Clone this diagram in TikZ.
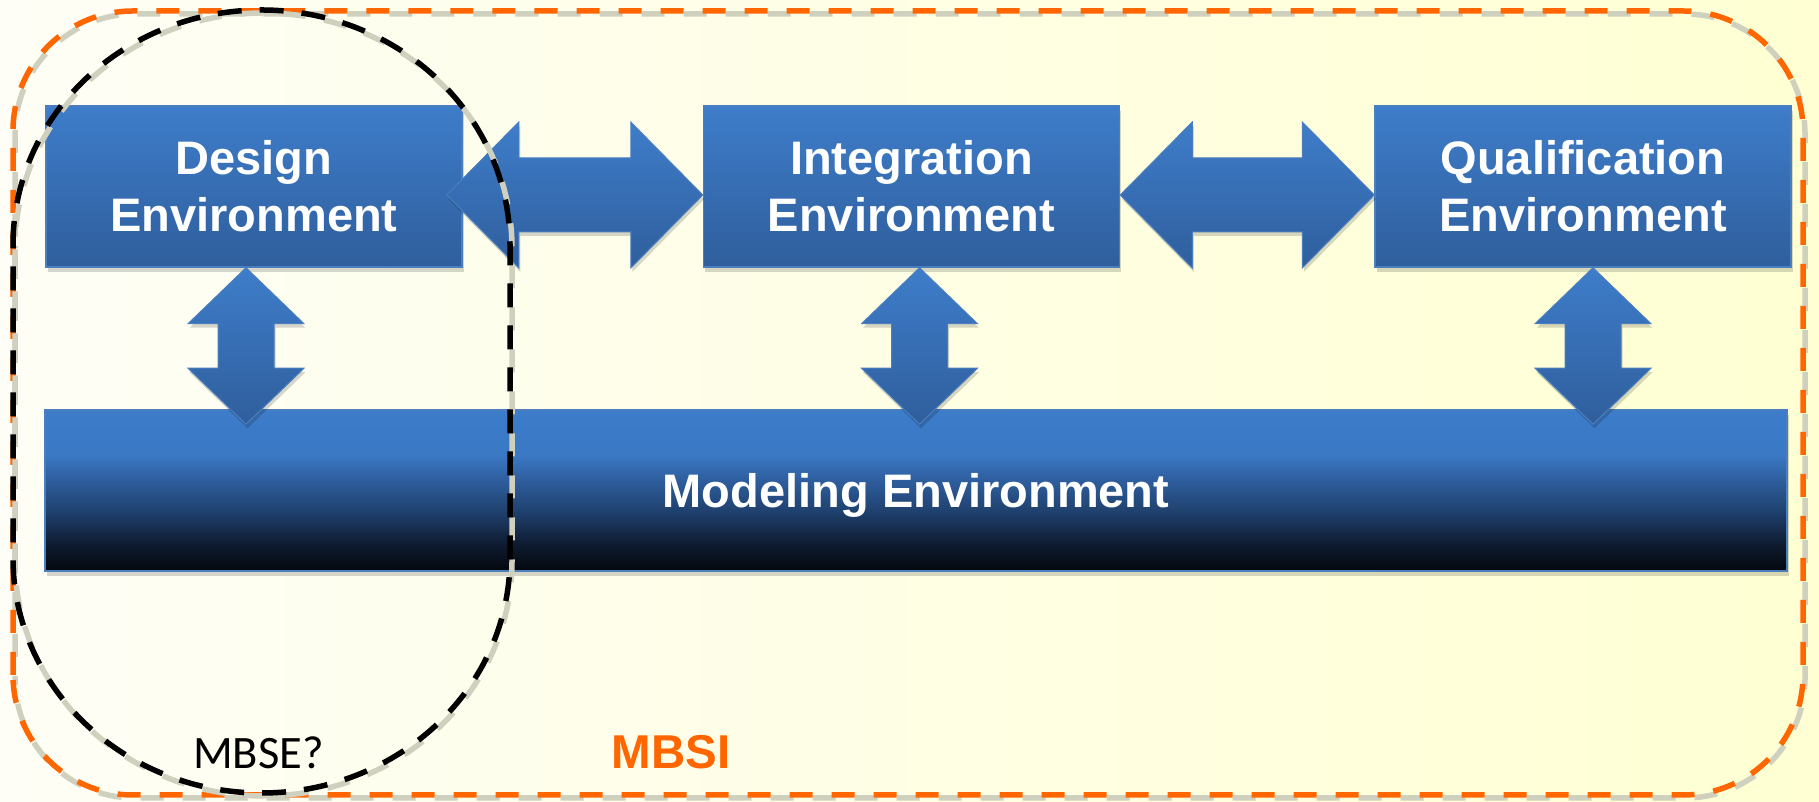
\documentclass[tikz,border=0pt]{standalone}
\usepackage{fontspec}
\setmainfont{Liberation Sans}
\newfontfamily\mbsefont{Carlito}
\usetikzlibrary{calc,positioning,shadows}

\definecolor{bgleft}{HTML}{FEFEF6}
\definecolor{bgright}{HTML}{FFFFD3}
\definecolor{boxtop}{HTML}{3E7DCA}
\definecolor{boxbot}{HTML}{2F5E9C}
\definecolor{boxedge}{HTML}{4A7EBF}
\definecolor{mbsiorange}{HTML}{FF6600}
\definecolor{dashgray}{HTML}{D0D0BF}
\definecolor{mod0}{HTML}{04080E}
\definecolor{mod1}{HTML}{0D1A2E}
\definecolor{mod2}{HTML}{1E3F6B}
\definecolor{mod3}{HTML}{2F5F9F}
\definecolor{mod4}{HTML}{3A78C4}
\definecolor{mod5}{HTML}{3C7CC8}
\pgfdeclareverticalshading{modelshade}{100bp}{color(0bp)=(mod0); color(25bp)=(mod0); color(33bp)=(mod1); color(43bp)=(mod2); color(53.5bp)=(mod3); color(61bp)=(mod4); color(75bp)=(mod5); color(100bp)=(mod5)}

\tikzset{
  boxshadow/.style={drop shadow={shadow xshift=1.5pt,shadow yshift=-5pt,fill=black,opacity=0.16}},
  envbox/.style={draw=boxedge,line width=1.5pt,top color=boxtop,bottom color=boxbot,
    text=white,font=\fontsize{47}{57}\selectfont\bfseries,align=center,
    minimum width=416pt,minimum height=161pt,inner sep=0pt,boxshadow},
  arrowbody/.style={top color=boxtop,bottom color=boxbot,draw=boxedge,line width=1pt,
    drop shadow={shadow xshift=1.5pt,shadow yshift=-4pt,fill=black,opacity=0.16}},
  dashshadow/.style={draw=dashgray,line width=5.5pt,dash pattern=on 23pt off 19pt,dash phase=21pt,shift={(2pt,-3pt)}},
  mbsiline/.style={draw=mbsiorange,line width=5.5pt,dash pattern=on 23pt off 19pt},
  mbseline/.style={draw=black,line width=5.5pt,dash pattern=on 24pt off 18pt}
}

% double headed block arrow between two tips: head length, half head width, half shaft width
\newcommand{\twoway}[5]{%
  \path[arrowbody] (#1)
    -- ($(#1)!#3!(#2)!#4!90:(#2)$)
    -- ($(#1)!#3!(#2)!#5!90:(#2)$)
    -- ($(#2)!#3!(#1)!#5!-90:(#1)$)
    -- ($(#2)!#3!(#1)!#4!-90:(#1)$)
    -- (#2)
    -- ($(#2)!#3!(#1)!#4!90:(#1)$)
    -- ($(#2)!#3!(#1)!#5!90:(#1)$)
    -- ($(#1)!#3!(#2)!#5!-90:(#2)$)
    -- ($(#1)!#3!(#2)!#4!-90:(#2)$)
    -- cycle;}

\begin{document}
\begin{tikzpicture}[x=1pt,y=1pt]

\useasboundingbox (0,0) rectangle (1819,802);
\shade[left color=bgleft,right color=bgright] (0,0) rectangle (1819,802);

\node[envbox] (design) at (254,615.5) {Design\\Environment};
\node[envbox,right=240pt of design] (integ) {Integration\\Environment};
\node[envbox,right=254pt of integ] (qual) {Qualification\\Environment};
\node[envbox,shade,shading=modelshade,minimum width=1742pt,text depth=0pt] (model) at (916,311.5) {Modeling Environment};

\coordinate (d1) at ($(design.east)+(-16,-8.5)$);
\coordinate (i1) at ($(integ.west)+(0,-8.5)$);
\coordinate (i2) at ($(integ.east)+(0,-8.5)$);
\coordinate (q1) at ($(qual.west)+(0,-8.5)$);
\twoway{d1}{i1}{72pt}{73pt}{37pt}
\twoway{i2}{q1}{72pt}{73pt}{37pt}

\coordinate (dt) at ($(design.south)+(-8,0)$);
\coordinate (db) at ($(dt |- model.north)+(0,-15)$);
\coordinate (it) at ($(integ.south)+(8,0)$);
\coordinate (ib) at ($(it |- model.north)+(0,-15)$);
\coordinate (qt) at ($(qual.south)+(10,0)$);
\coordinate (qb) at ($(qt |- model.north)+(0,-15)$);
\twoway{dt}{db}{56pt}{58pt}{28pt}
\twoway{it}{ib}{56pt}{58pt}{28pt}
\twoway{qt}{qb}{56pt}{58pt}{28pt}

\draw[dashshadow,rounded corners=120pt] (13,7) rectangle (1803,791);
\draw[mbsiline,rounded corners=120pt] (13,7) rectangle (1803,791);

\draw[dashshadow] (13,557) arc[start angle=180,end angle=0,x radius=248.5,y radius=235]
  -- (510,244) arc[start angle=0,end angle=-180,x radius=248.5,y radius=235] -- cycle;
\draw[mbseline] (13,557) arc[start angle=180,end angle=0,x radius=248.5,y radius=235]
  -- (510,244) arc[start angle=0,end angle=-180,x radius=248.5,y radius=235] -- cycle;

\node[font=\mbsefont\fontsize{46.5}{55}\selectfont,anchor=base] (mbse) at (258.5,33) {MBSE?};
\node[font=\fontsize{47.5}{57}\selectfont\bfseries,text=mbsiorange,anchor=base] (mbsi) at (671,33) {MBSI};

\end{tikzpicture}
\end{document}
